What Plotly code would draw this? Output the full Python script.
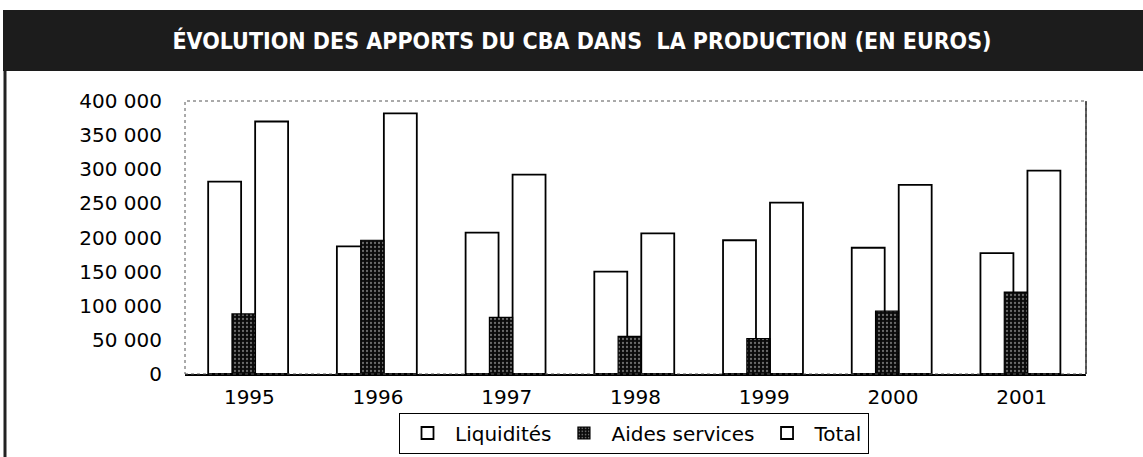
import plotly.graph_objects as go

years = ["1995", "1996", "1997", "1998", "1999", "2000", "2001"]
liquidites = [282000, 187000, 207000, 150000, 196000, 185000, 177000]
aides_services = [88000, 196000, 83000, 55000, 52000, 92000, 120000]
total = [370000, 382000, 292000, 206000, 251000, 277000, 298000]
y_ticks = [0, 50000, 100000, 150000, 200000, 250000, 300000, 350000, 400000]
y_tick_labels = ["0", "50 000", "100 000", "150 000", "200 000", "250 000",
                 "300 000", "350 000", "400 000"]
title_text = "ÉVOLUTION DES APPORTS DU CBA DANS  LA PRODUCTION (EN EUROS)"

W, H = 1143, 457
L, R, T, B = 185, 57, 101, 83
pw, ph = W - L - R, H - T - B

def px_x(p):
    return (p - L) / pw

def px_y(p):
    return (H - B - p) / ph

fig = go.Figure()
fig.add_trace(go.Bar(
    x=years, y=liquidites, name="Liquidités", legendrank=1,
    offset=-0.32, width=0.256,
    marker=dict(color="white", line=dict(color="black", width=1.8)),
))
fig.add_trace(go.Bar(
    x=years, y=total, name="Total", legendrank=3,
    offset=0.045, width=0.256,
    marker=dict(color="white", line=dict(color="black", width=1.8)),
))
fig.add_trace(go.Bar(
    x=years, y=aides_services, name="Aides services", legendrank=2,
    offset=-0.135, width=0.18,
    marker=dict(color="#0a0a0a", line=dict(color="black", width=1.2),
                pattern=dict(shape=".", fillmode="overlay", fgcolor="#cccccc",
                             size=4, solidity=0.25)),
))

shapes = [
    # title bar
    dict(type="rect", xref="paper", yref="paper",
         x0=px_x(3), x1=px_x(1143), y0=px_y(71), y1=px_y(10),
         fillcolor="#1c1c1c", line=dict(width=0), layer="below"),
    # left border
    dict(type="line", xref="paper", yref="paper",
         x0=px_x(5), x1=px_x(5), y0=px_y(71), y1=px_y(457),
         line=dict(color="#222222", width=3)),
    # plot frame
    dict(type="rect", xref="paper", yref="paper", x0=0, x1=1, y0=0, y1=1,
         line=dict(color="#555555", width=1, dash="dot")),
    dict(type="line", xref="paper", yref="paper", x0=1, x1=1, y0=0, y1=1,
         line=dict(color="#333333", width=1.5)),
]

fig.update_layout(
    width=W, height=H,
    margin=dict(l=L, r=R, t=T, b=B, autoexpand=False),
    paper_bgcolor="white", plot_bgcolor="white",
    barmode="overlay",
    shapes=shapes,
    title=dict(text=title_text, x=582 / W, y=1 - 41 / H, xanchor="center",
               yanchor="middle", automargin=False,
               font=dict(family="DejaVu Sans Condensed", size=23, color="white",
                         weight="bold")),
    font=dict(family="DejaVu Sans", size=16, color="black"),
    xaxis=dict(type="category", range=[-0.5, 6.5], showgrid=False,
               automargin=False,
               showline=True, linecolor="black", linewidth=1.5,
               ticks="", ticklabelstandoff=4,
               tickfont=dict(family="DejaVu Sans", size=20)),
    yaxis=dict(range=[0, 400000], tickvals=y_ticks, ticktext=y_tick_labels,
               automargin=False,
               showgrid=False, zeroline=False, showline=False, ticks="",
               ticklabelstandoff=22,
               tickfont=dict(family="DejaVu Sans", size=20)),
    legend=dict(orientation="h", x=634 / W, xref="container", xanchor="center",
                y=1 - 433 / H, yref="container", yanchor="middle",
                bordercolor="black", borderwidth=1, bgcolor="white",
                font=dict(family="DejaVu Sans", size=20),
                itemwidth=45),
)

fig.write_html("out.html", config={"displayModeBar": False},
               post_script="document.body.style.margin='0';")
